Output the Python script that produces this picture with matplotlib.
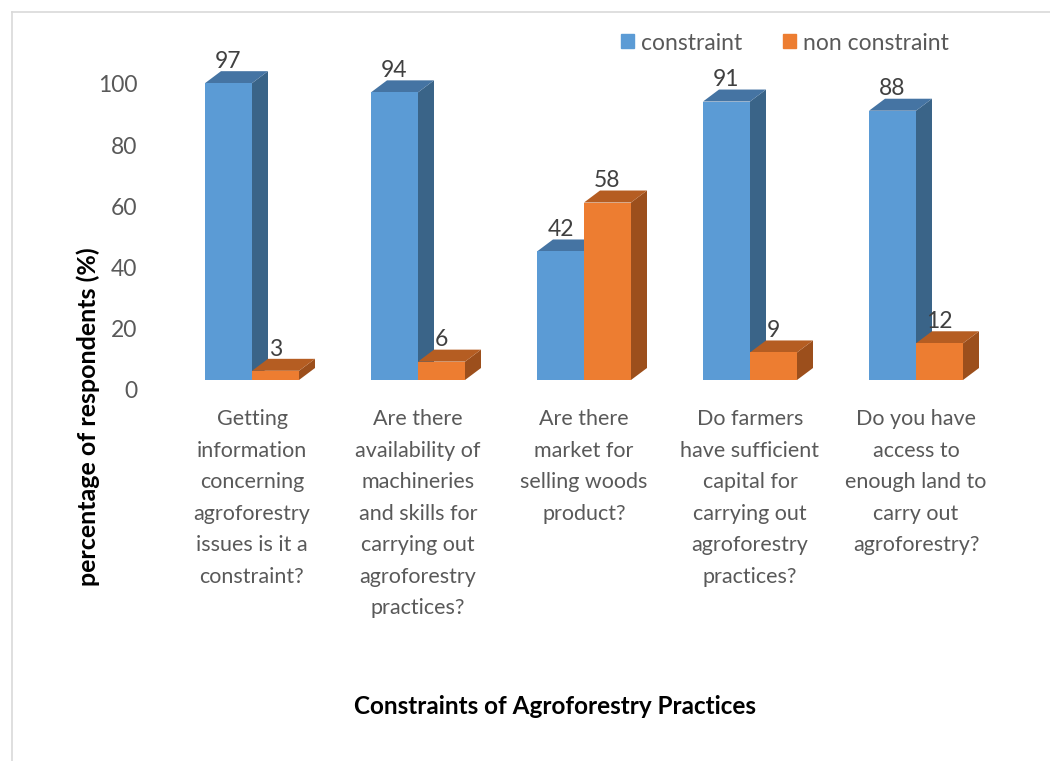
import matplotlib
matplotlib.use("Agg")
import matplotlib.pyplot as plt
from matplotlib.patches import Patch
from matplotlib.lines import Line2D

plt.rcParams['font.family'] = ['Lato', 'DejaVu Sans']

categories = [
    "Getting\ninformation\nconcerning\nagroforestry\nissues is it a\nconstraint?",
    "Are there\navailability of\nmachineries\nand skills for\ncarrying out\nagroforestry\npractices?",
    "Are there\nmarket for\nselling woods\nproduct?",
    "Do farmers\nhave sufficient\ncapital for\ncarrying out\nagroforestry\npractices?",
    "Do you have\naccess to\nenough land to\ncarry out\nagroforestry?",
]
constraint = [97, 94, 42, 91, 88]
non_constraint = [3, 6, 58, 9, 12]
series_names = ["constraint", "non constraint"]
y_ticks = [0, 20, 40, 60, 80, 100]

W, H = 1050, 761
fig = plt.figure(figsize=(W / 100, H / 100), dpi=100)

# axes geometry (pixels)
px_per_unit_y = 3.06
ymin, ymax = -5, 110
y0_px = 380  # pixel row of value 0 (front face)
group_px = 166.0
c0_px = 252.0
xmin, xmax = -0.65, 4.65
left_px = c0_px + xmin * group_px
right_px = c0_px + xmax * group_px
bottom_px = y0_px - ymin * px_per_unit_y
top_px = y0_px - ymax * px_per_unit_y
ax = fig.add_axes([left_px / W, 1 - bottom_px / H, (right_px - left_px) / W, (bottom_px - top_px) / H])
ax.set_xlim(xmin, xmax)
ax.set_ylim(ymin, ymax)

bw = 47 / group_px
ddx = 16 / group_px
ddy = 12 / px_per_unit_y

styles = [
    dict(front="#5B9BD5", top="#4574A3", side="#3A6488"),
    dict(front="#ED7D31", top="#B55D22", side="#9C4F1C"),
]

for i in range(len(categories)):
    for s, vals in enumerate([constraint, non_constraint]):
        v = vals[i]
        st = styles[s]
        x0 = i - bw + s * bw
        x1 = x0 + bw
        # side face
        ax.fill([x1, x1 + ddx, x1 + ddx, x1], [0, ddy, v + ddy, v], color=st["side"], lw=0, zorder=2 + s * 3)
        # top face
        ax.fill([x0, x1, x1 + ddx, x0 + ddx], [v, v, v + ddy, v + ddy], color=st["top"], lw=0, zorder=3 + s * 3)
        # front face
        ax.bar(x0, v, width=bw, align='edge', color=st["front"], lw=0, zorder=4 + s * 3)
        ax.annotate(str(v), xy=(x0 + bw / 2, v), xytext=(0, 11), textcoords='offset points',
                    ha='center', va='baseline', fontsize=16.5, color='#404040', zorder=10)

for sp in ax.spines.values():
    sp.set_visible(False)

ax.set_yticks([t - 10 / px_per_unit_y for t in y_ticks])
ax.set_yticklabels([str(t) for t in y_ticks], fontsize=16.5, color='#595959')
ax.tick_params(axis='y', length=0, pad=5)
ax.set_xticks(range(len(categories)))
ax.set_xticklabels(categories, fontsize=15.5, color='#595959', linespacing=1.72, va='top')
ax.tick_params(axis='x', length=0, pad=10)

fig.text(88 / W, 1 - 417 / H, "percentage of respondents (%)", rotation=90, fontsize=18,
         fontweight='bold', ha='center', va='center', color='black')
fig.text(555 / W, 1 - 707 / H, "Constraints of Agroforestry Practices", fontsize=17.5,
         fontweight='bold', ha='center', va='center', color='black')

handles = [Patch(color=styles[0]["front"]), Patch(color=styles[1]["front"])]
fig.legend(handles, series_names, loc='center', bbox_to_anchor=(785 / W, 1 - 43 / H), ncol=2,
           frameon=False, fontsize=16.5, handlelength=0.55, handleheight=0.55, handletextpad=0.3,
           columnspacing=1.8, labelcolor='#595959')

# chart frame
fig.add_artist(Line2D([12 / W, 12 / W], [0, 1 - 12 / H], color='#D9D9D9', lw=1.2))
fig.add_artist(Line2D([12 / W, 1], [1 - 12 / H, 1 - 12 / H], color='#D9D9D9', lw=1.2))

fig.savefig("out.png", dpi=100)
